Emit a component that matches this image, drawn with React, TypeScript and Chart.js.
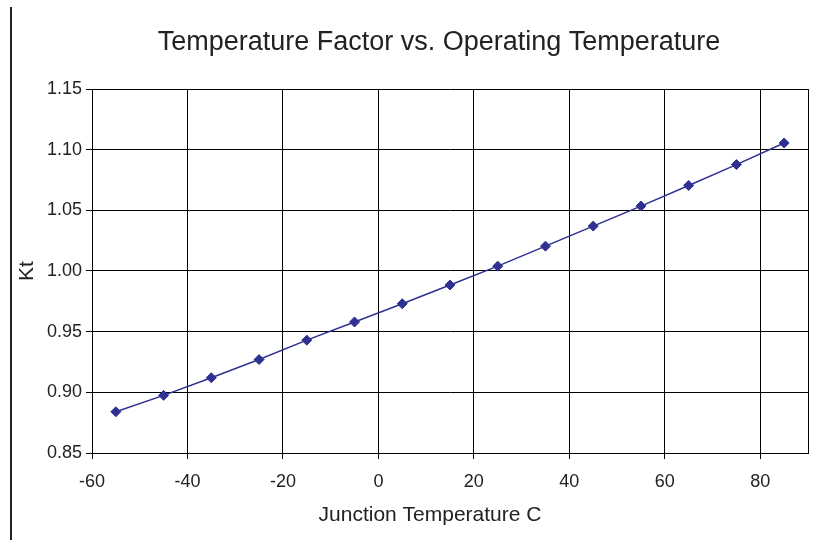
import { useEffect, useRef } from "react";
import { Chart, registerables } from "chart.js";

Chart.register(...registerables);

const temperatures = [-55, -45, -35, -25, -15, -5, 5, 15, 25, 35, 45, 55, 65, 75, 85];
const ktValues = [0.884, 0.8975, 0.912, 0.927, 0.943, 0.958, 0.973, 0.9885, 1.004, 1.0205, 1.037, 1.0535, 1.0705, 1.0877, 1.1055];
const xTickValues = [-60, -40, -20, 0, 20, 40, 60, 80];
const yTickValues = [0.85, 0.9, 0.95, 1.0, 1.05, 1.1, 1.15];
const chartTitle = "Temperature Factor vs. Operating Temperature";
const xAxisTitle = "Junction Temperature C";
const yAxisTitle = "Kt";

const FONT = '"Liberation Sans", Arial, sans-serif';
const TEXT = "#222";
const SERIES = "#2E3192";

const decorPlugin = {
  id: "decor",
  afterDraw(chart: any) {
    const { ctx, chartArea: a } = chart;
    ctx.save();
    // right border of plot area
    ctx.strokeStyle = "#000";
    ctx.lineWidth = 1;
    const rx = Math.floor(a.right) + 0.5;
    ctx.beginPath();
    ctx.moveTo(rx, a.top);
    ctx.lineTo(rx, a.bottom);
    ctx.stroke();
    // left page rule
    ctx.fillStyle = "#222";
    ctx.fillRect(10, 7, 2, 533);
    // titles
    ctx.fillStyle = TEXT;
    ctx.textBaseline = "alphabetic";
    ctx.textAlign = "center";
    ctx.font = `27px ${FONT}`;
    ctx.fillText(chartTitle, 439, 50);
    ctx.font = `21px ${FONT}`;
    ctx.fillText(xAxisTitle, 430, 520.5);
    ctx.translate(33, 271);
    ctx.rotate(-Math.PI / 2);
    ctx.fillText(yAxisTitle, 0, 0);
    ctx.restore();
  },
};

export default function App() {
  const ref = useRef<HTMLCanvasElement | null>(null);
  useEffect(() => {
    if (!ref.current) return;
    const chart = new Chart(ref.current, {
      type: "line",
      data: {
        datasets: [
          {
            data: temperatures.map((x, i) => ({ x, y: ktValues[i] })),
            borderColor: SERIES,
            backgroundColor: SERIES,
            borderWidth: 1.5,
            pointStyle: "rectRot",
            pointRadius: 5,
            pointBorderWidth: 1,
            pointBorderColor: SERIES,
            pointBackgroundColor: SERIES,
            tension: 0,
          },
        ],
      },
      options: {
        animation: false,
        responsive: false,
        devicePixelRatio: 1,
        layout: { padding: { top: 89, right: 21, bottom: 0, left: 0 } },
        plugins: { legend: { display: false }, tooltip: { enabled: false }, title: { display: false } },
        scales: {
          x: {
            type: "linear",
            min: -60,
            max: 90,
            afterBuildTicks: (s: any) => {
              s.ticks = xTickValues.map((value) => ({ value }));
            },
            afterFit: (s: any) => {
              s.height = 87;
            },
            grid: { color: "#000", lineWidth: 1, tickLength: 6, drawTicks: true },
            border: { color: "#000", width: 1 },
            ticks: {
              font: { family: FONT, size: 18 },
              color: TEXT,
              padding: 12,
              maxRotation: 0,
              autoSkip: false,
              callback: (v: any) => String(v),
            },
          },
          y: {
            type: "linear",
            min: 0.85,
            max: 1.15,
            afterBuildTicks: (s: any) => {
              s.ticks = yTickValues.map((value) => ({ value }));
            },
            afterFit: (s: any) => {
              s.width = 92;
            },
            grid: { color: "#000", lineWidth: 1, tickLength: 6, drawTicks: true },
            border: { color: "#000", width: 1 },
            ticks: {
              font: { family: FONT, size: 18 },
              color: TEXT,
              padding: 4,
              autoSkip: false,
              callback: (v: any) => Number(v).toFixed(2),
            },
          },
        },
      },
      plugins: [decorPlugin],
    } as any);
    return () => chart.destroy();
  }, []);
  return (
    <canvas
      ref={ref}
      width={829}
      height={540}
      style={{ position: "absolute", left: 0, top: 0, width: 829, height: 540, background: "#fff" }}
    />
  );
}
